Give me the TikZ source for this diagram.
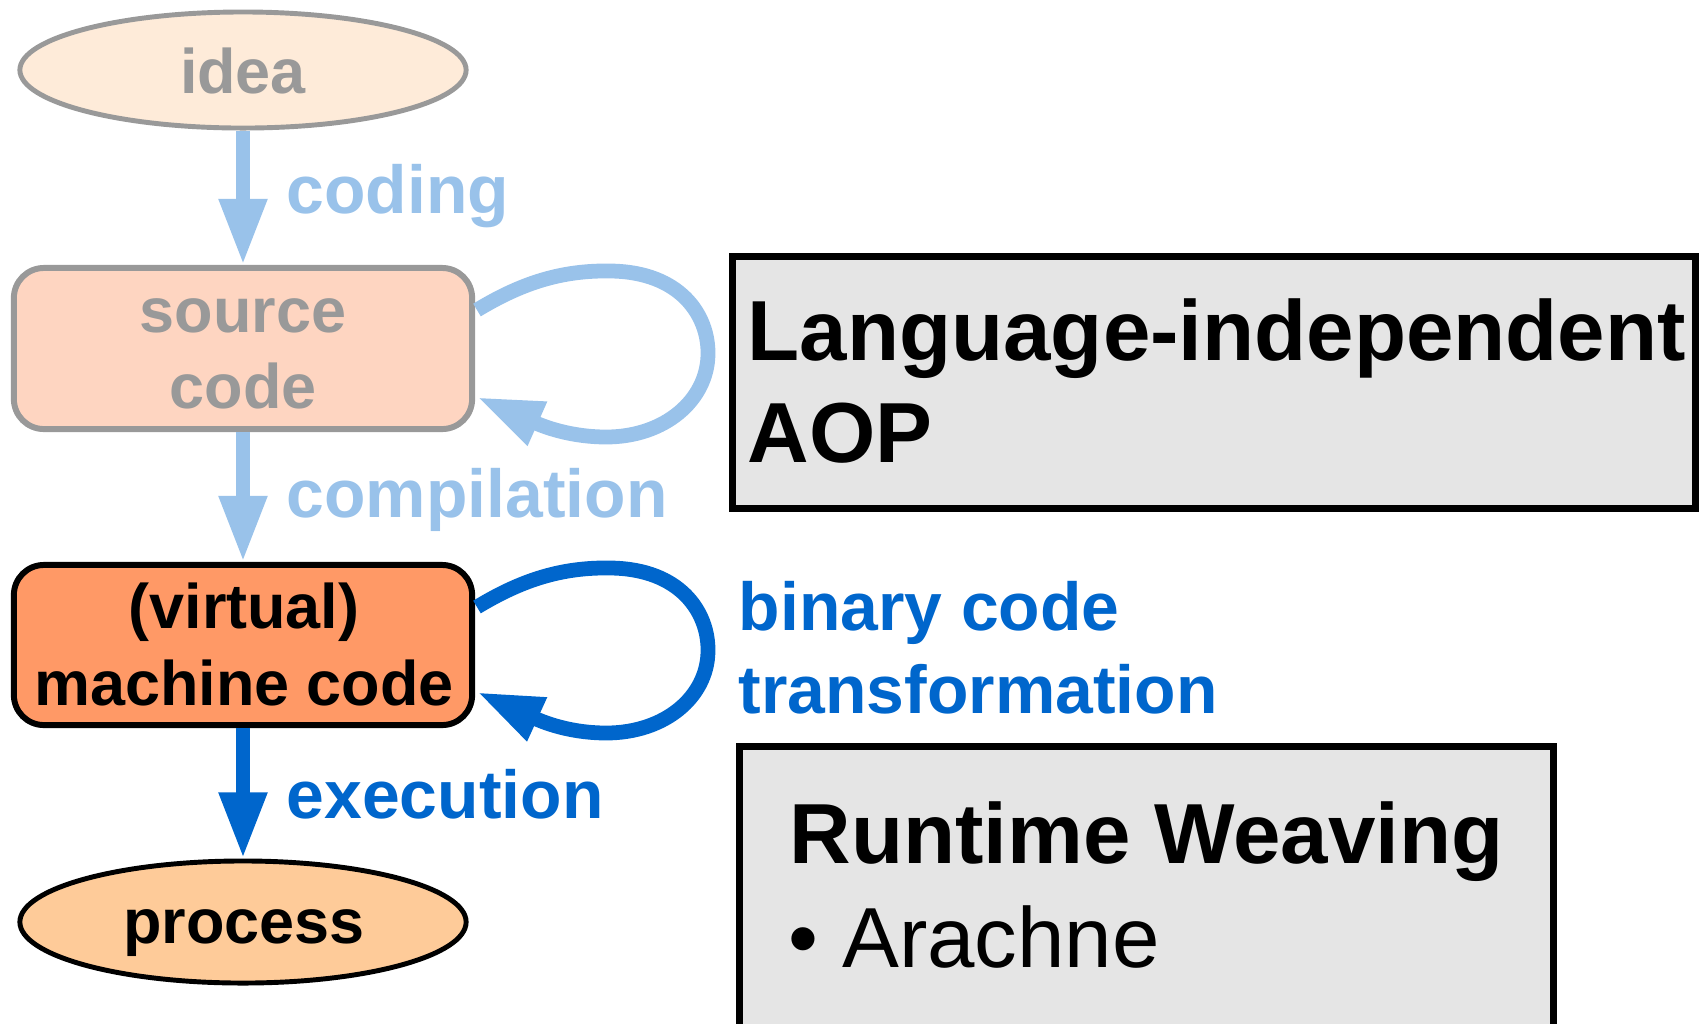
\documentclass[tikz,border=0pt]{standalone}
\usepackage{fontspec}
\setmainfont{Liberation Sans}
\usetikzlibrary{shapes.geometric,arrows.meta}
\definecolor{ideafill}{HTML}{FEEBD9}
\definecolor{srcfill}{HTML}{FED5C1}
\definecolor{mcfill}{HTML}{FF9966}
\definecolor{procfill}{HTML}{FECB99}
\definecolor{lblue}{HTML}{99C2EA}
\definecolor{dblue}{HTML}{0066CC}
\definecolor{gtxt}{HTML}{999999}
\definecolor{boxfill}{HTML}{E5E5E5}
\newcommand\fnodetxt{\fontsize{17.9pt}{21pt}\selectfont\bfseries}
\newcommand\flbltxt{\fontsize{19.3pt}{22pt}\selectfont\bfseries}
\newcommand\fbigtxt{\fontsize{24.25pt}{28pt}\selectfont}
\begin{document}
\begin{tikzpicture}[x=0.01cm,y=-0.01cm,
  ell/.style={ellipse,inner sep=0pt,minimum width=4.46cm,line width=1.4pt},
  rbox/.style={rectangle,rounded corners=0.3cm,inner sep=0pt,minimum width=4.58cm,minimum height=1.61cm,line width=1.7pt},
  gbox/.style={rectangle,draw=black,fill=boxfill,line width=2pt,inner sep=0pt,outer sep=0pt,anchor=north west},
  txt/.style={inner sep=0pt,anchor=base},
  ltxt/.style={inner sep=0pt,anchor=base west},
  flow/.style={line width=4pt,-{Triangle[length=18.8pt,width=12.8pt]}},
  loopy/.style={line width=4.2pt,-{Triangle[length=18.8pt,width=12.5pt]}}
]
\useasboundingbox (0,0) rectangle (1699,1023);
\clip (0,0) rectangle (1699,1023);

% nodes
\node[ell,draw=gtxt,fill=ideafill,minimum height=1.16cm] (idea) at (243,70) {};
\node[rbox,draw=gtxt,fill=srcfill] (src) at (243,348.5) {};
\node[rbox,draw=black,fill=mcfill,minimum height=1.60cm] (mc) at (243,645) {};
\node[ell,draw=black,fill=procfill,minimum height=1.22cm] (proc) at (243,922) {};

% node texts
\node[txt,text=gtxt,font=\fnodetxt] (ideat) at (243,93) {idea};
\node[txt,text=gtxt,font=\fnodetxt] (srct1) at (243,332) {source};
\node[txt,text=gtxt,font=\fnodetxt] (srct2) at (243,408) {code};
\node[txt,font=\fnodetxt] (mct1) at (244,628) {(virtual)};
\node[txt,font=\fnodetxt] (mct2) at (244,705) {machine code};
\node[txt,font=\fnodetxt] (proct) at (244,943) {process};

% straight arrows
\draw[flow,lblue] (idea.south) -- (src.north);
\draw[flow,lblue] (src.south) -- (mc.north);
\draw[flow,dblue] (mc.south) -- (proc.north);

% arrow labels
\node[ltxt,text=lblue,font=\flbltxt] (lcoding) at (286,213) {coding};
\node[ltxt,text=lblue,font=\flbltxt] (lcomp) at (286,517) {compilation};
\node[ltxt,text=dblue,font=\flbltxt] (lexec) at (286,818) {execution};
\node[ltxt,text=dblue,font=\flbltxt] (lbin1) at (738,630) {binary code};
\node[ltxt,text=dblue,font=\flbltxt] (lbin2) at (738,713) {transformation};

% self loops
\coordinate (s1) at (477,310);
\coordinate (e1) at (477,397);
\draw[loopy,lblue] (s1) .. controls (520,284) and (560,270) .. (611,271)
  .. controls (680,272) and (709,315) .. (708,355)
  .. controls (707,400) and (665,437) .. (606,437)
  .. controls (582,437) and (556,432) .. (e1);
\coordinate (s2) at (477,607);
\coordinate (e2) at (477,692);
\draw[loopy,dblue] (s2) .. controls (520,581) and (560,567) .. (611,568)
  .. controls (680,569) and (709,612) .. (708,652)
  .. controls (707,697) and (665,733) .. (606,733)
  .. controls (582,733) and (556,728) .. (e2);

% gray boxes
\node[gbox,minimum width=9.62cm,minimum height=2.52cm] (lang) at (732.5,256.5) {};
\node[ltxt,font=\fbigtxt\bfseries] (langt1) at (747,360) {Language-independent};
\node[ltxt,font=\fbigtxt\bfseries] (langt2) at (747,462) {AOP};

\node[gbox,minimum width=8.14cm,minimum height=3.2cm] (rt) at (739.5,746.5) {};
\node[ltxt,font=\fbigtxt\bfseries] (rtt1) at (789,863) {Runtime Weaving};
\node[ltxt,font=\fbigtxt] (rtt2) at (788,967) {• Arachne};
\end{tikzpicture}
\end{document}
